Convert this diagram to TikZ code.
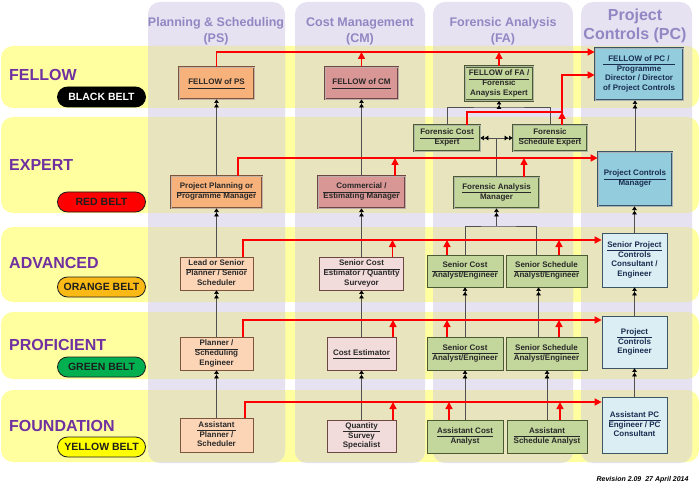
\documentclass[tikz,border=0pt]{standalone}
\usepackage{fontspec}
\setmainfont{Liberation Sans}
\usetikzlibrary{arrows.meta}
\definecolor{bandyellow}{RGB}{255,255,160}
\definecolor{colpurple}{RGB}{230,226,242}
\definecolor{overlap}{RGB}{231,228,190}
\definecolor{labpurple}{RGB}{112,48,160}
\definecolor{headpurple}{RGB}{145,135,195}
\definecolor{psdark}{RGB}{247,177,122}
\definecolor{pslight}{RGB}{252,213,182}
\definecolor{psedge}{RGB}{125,85,60}
\definecolor{cmdark}{RGB}{216,150,148}
\definecolor{cmlight}{RGB}{242,220,219}
\definecolor{cmedge}{RGB}{110,70,68}
\definecolor{fagreen}{RGB}{195,214,155}
\definecolor{faedge}{RGB}{75,90,50}
\definecolor{pcdark}{RGB}{147,205,221}
\definecolor{pclight}{RGB}{219,238,244}
\definecolor{pcedge}{RGB}{60,85,100}
\definecolor{pctext}{RGB}{25,45,80}
\definecolor{boxtext}{RGB}{40,40,40}
\definecolor{pillink}{RGB}{30,30,30}
\definecolor{beltred}{RGB}{255,0,0}
\definecolor{beltorange}{RGB}{250,185,20}
\definecolor{beltgreen}{RGB}{0,176,80}
\definecolor{beltyellow}{RGB}{255,255,0}
\definecolor{rline}{RGB}{255,0,0}
\definecolor{gline}{RGB}{80,80,80}

\newcommand{\bxtwo}[2]{\begin{tabular}{@{}c@{}}#1\\\hline #2\end{tabular}}
\newcommand{\bxone}[1]{\begin{tabular}{@{}c@{}}#1\\\hline\end{tabular}}

\tikzset{
  bxfont/.style={font=\fontsize{8}{9.5}\selectfont\bfseries},
  sz/.style 2 args={minimum width=#1, minimum height=#2},
  lowbox/.style={bxfont, draw=#1, line width=0.7pt, inner sep=1pt, text=boxtext},
  topbox/.style={bxfont, draw=#1, line width=0.8pt, double=#1!45!white, double distance=0.9pt, inner sep=1pt, text=boxtext},
  psbox/.style={lowbox=psedge, fill=pslight},
  psboss/.style={topbox=psedge, fill=psdark},
  cmbox/.style={lowbox=cmedge, fill=cmlight},
  cmboss/.style={topbox=cmedge, fill=cmdark},
  fabox/.style={lowbox=faedge, fill=fagreen},
  faboss/.style={topbox=faedge, fill=fagreen},
  pcbox/.style={lowbox=pcedge, fill=pclight, text=pctext},
  pcboss/.style={topbox=pcedge, fill=pcdark, text=pctext},
  head/.style={font=\fontsize{12.5}{16}\selectfont\bfseries, text=headpurple, align=center},
  rowlab/.style={font=\fontsize{16}{19}\selectfont\bfseries, text=labpurple, anchor=west, inner sep=0pt},
  pill/.style={draw=pillink, line width=0.8pt, rounded corners=10pt, minimum width=88pt, minimum height=20pt, inner sep=0pt, font=\fontsize{10.5}{12}\selectfont\bfseries, text=pillink},
  uparrow/.style={draw=gline, line width=0.7pt, -{Triangle[length=3.6pt,width=4.6pt,color=black,sep=0.8pt]Triangle[length=3.6pt,width=4.6pt,color=black]}},
  link/.style={draw=gline, line width=0.7pt},
  redarrow/.style={draw=rline, line width=1.5pt, -{Triangle[length=7pt,width=7pt]}}
}

\begin{document}
\begin{tikzpicture}[x=1pt,y=-1pt]
\useasboundingbox (0,0) rectangle (700,486);

% background: level bands and discipline columns
\foreach \t/\b in {46/108,117/213,227/302,312/379,390/462}
  \fill[bandyellow, rounded corners=12pt] (1,\t) rectangle (699,\b);
\foreach \l/\r in {148/285,295/425,433/573,581/692}{
  \fill[colpurple, rounded corners=12pt] (\l,2) rectangle (\r,463);
  \begin{scope}
    \clip[rounded corners=12pt] (\l,2) rectangle (\r,463);
    \foreach \t/\b in {46/108,117/213,227/302,312/379,390/462}
      \fill[overlap, rounded corners=12pt] (1,\t) rectangle (699,\b);
  \end{scope}
}

% column heads
\node[head] (hps) at (216,31) {Planning \& Scheduling\\(PS)};
\node[head] (hcm) at (360,31) {Cost Management\\(CM)};
\node[head] (hfa) at (503,31) {Forensic Analysis\\(FA)};
\node[head, font=\fontsize{16}{19}\selectfont\bfseries] (hpc) at (635,26) {Project\\Controls (PC)};

% levels
\node[rowlab] (lfel) at (9,75) {FELLOW};
\node[rowlab] (lexp) at (9,165) {EXPERT};
\node[rowlab] (ladv) at (9,263) {ADVANCED};
\node[rowlab] (lpro) at (9,345) {PROFICIENT};
\node[rowlab] (lfou) at (9,426) {FOUNDATION};
\node[pill, fill=black, draw=black, text=white] (bblack) at (101.5,97) {BLACK BELT};
\node[pill, fill=beltred] (bred) at (101.5,202) {RED BELT};
\node[pill, fill=beltorange] (borange) at (101.5,287) {ORANGE BELT};
\node[pill, fill=beltgreen] (bgreen) at (101.5,367) {GREEN BELT};
\node[pill, fill=beltyellow] (byellow) at (101.5,447) {YELLOW BELT};

% planning & scheduling
\node[psboss, sz={75pt}{32pt}] (fps) at (216.5,83) {\bxone{FELLOW of PS}};
\node[psboss, sz={91pt}{32pt}] (pps) at (216.5,192) {\bxtwo{Project Planning or}{Programme Manager}};
\node[psbox, sz={73pt}{33pt}] (lps) at (216.5,273.5) {\bxtwo{Lead or Senior}{Planner / Senior\\Scheduler}};
\node[psbox, sz={73pt}{33pt}] (eps) at (216.5,353.5) {\bxtwo{Planner /}{Scheduling\\Engineer}};
\node[psbox, sz={73pt}{34pt}] (aps) at (216.5,435) {\bxtwo{Assistant}{Planner /\\Scheduler}};

% cost management
\node[cmboss, sz={73pt}{32pt}] (fcm) at (361.5,83) {\bxone{FELLOW of CM}};
\node[cmboss, sz={87pt}{32pt}] (mcm) at (361.5,192) {\bxtwo{Commercial /}{Estimating Manager}};
\node[cmbox, sz={84pt}{33pt}] (scm) at (361.5,273.5) {\bxtwo{Senior Cost}{Estimator / Quantity\\Surveyor}};
\node[cmbox, sz={69pt}{33pt}] (ecm) at (361.5,353.5) {\bxone{Cost Estimator}};
\node[cmbox, sz={69pt}{32pt}] (qcm) at (361.5,436) {\bxtwo{Quantity}{Survey\\Specialist}};

% forensic analysis
\node[faboss, sz={68pt}{34pt}] (ffa) at (499,83.5) {\bxtwo{FELLOW of FA /}{Forensic\\Anaysis Expert}};
\node[faboss, sz={66pt}{26pt}] (cfa) at (447,138) {\bxtwo{Forensic Cost}{Expert}};
\node[faboss, sz={74pt}{26pt}] (sfa) at (550,138) {\bxtwo{Forensic}{Schedule Expert}};
\node[faboss, sz={85pt}{31pt}] (mfa) at (496.5,192.5) {\bxtwo{Forensic Analysis}{Manager}};
\node[fabox, sz={76pt}{32pt}] (acfa) at (465,271) {\bxtwo{Senior Cost}{Analyst/Engineer}};
\node[fabox, sz={81pt}{32pt}] (asfa) at (546.5,271) {\bxtwo{Senior Schedule}{Analyst/Engineer}};
\node[fabox, sz={76pt}{33pt}] (pcfa) at (465,353.5) {\bxtwo{Senior Cost}{Analyst/Engineer}};
\node[fabox, sz={81pt}{33pt}] (psfa) at (546.5,353.5) {\bxtwo{Senior Schedule}{Analyst/Engineer}};
\node[fabox, sz={76pt}{33pt}] (ncfa) at (465,436.5) {\bxtwo{Assistant Cost}{Analyst}};
\node[fabox, sz={80pt}{33pt}] (nsfa) at (547,436.5) {\bxtwo{Assistant}{Schedule Analyst}};

% project controls
\node[pcboss, sz={88pt}{52pt}] (fpc) at (639,74) {\bxtwo{FELLOW of PC /}{Programme\\Director / Director\\of Project Controls}};
\node[pcboss, sz={74pt}{54pt}] (mpc) at (635,179) {\bxtwo{Project Controls}{Manager}};
\node[pcbox, sz={65pt}{54pt}] (spc) at (634.5,260) {\bxtwo{Senior Project}{Controls\\Consultant /\\Engineer}};
\node[pcbox, sz={65pt}{52pt}] (epc) at (634.5,342) {\bxtwo{Project}{Controls\\Engineer}};
\node[pcbox, sz={65pt}{56pt}] (apc) at (634.5,425) {\bxtwo{Assistant PC}{Engineer / PC\\Consultant}};

\node[anchor=east, font=\fontsize{7}{8}\selectfont\bfseries\itshape] (rev) at (692,480) {Revision 2.09~~27 April 2014};

% progression within a column
\foreach \a/\b in {aps/eps,eps/lps,lps/pps,pps/fps,qcm/ecm,ecm/scm,scm/mcm,mcm/fcm,ncfa/pcfa,pcfa/acfa,nsfa/psfa,apc/epc,epc/spc,spc/mpc,mpc/fpc}
  \draw[uparrow] (\a.north) -- (\a.north |- \b.south);
\draw[uparrow] ([xshift=-8pt]psfa.north) -- ([xshift=-8pt]asfa.south);
\coordinate (advj) at (mfa.south |- 0,226);
\draw[link] (acfa.north) |- (advj) -| ([xshift=-10pt]asfa.north);
\draw[uparrow] (advj) -- (mfa.south);
\draw[uparrow] (mfa.north) |- (cfa.east);
\draw[uparrow] (mfa.north) |- (sfa.west);
\coordinate (expj) at (ffa.south |- 0,107);
\draw[link] (cfa.north) |- (expj) -| (sfa.north);
\draw[uparrow] (expj) -- (ffa.south);

% cross-over to project controls
\coordinate (yfel) at (0,52);
\coordinate (yexp) at (0,158);
\coordinate (yadv) at (0,240);
\coordinate (ypro) at (0,320);
\coordinate (yfou) at (0,402);
\draw[redarrow] (fps.north) |- (fpc.west |- yfel);
\draw[redarrow] ([xshift=21.5pt]pps.north) |- (mpc.west |- yexp);
\draw[redarrow] ([xshift=26.5pt]lps.north) |- (spc.west |- yadv);
\draw[redarrow] ([xshift=26.5pt]eps.north) |- (epc.west |- ypro);
\draw[redarrow] ([xshift=28.5pt]aps.north) |- (apc.west |- yfou);
\foreach \n/\dx/\r in {fcm/0/yfel,ffa/0/yfel,mcm/33.5/yexp,mfa/27.5/yexp,scm/31/yadv,acfa/-18/yadv,asfa/12.5/yadv,ecm/31.5/ypro,pcfa/-18/ypro,psfa/12.5/ypro,qcm/31.5/yfou,ncfa/-16/yfou,nsfa/13/yfou}{
  \path ([xshift=\dx pt]\n.north) coordinate (s);
  \draw[redarrow] (s) -- (s |- \r);
}
\coordinate (xe) at ([xshift=12pt]sfa.north |- 0,112);
\draw[redarrow] ([xshift=20pt]cfa.north) |- (xe) |- (fpc.west |- 0,75);
\path ([xshift=12pt]sfa.north) coordinate (s);
\draw[redarrow] (s) -- (xe);
\end{tikzpicture}
\end{document}
